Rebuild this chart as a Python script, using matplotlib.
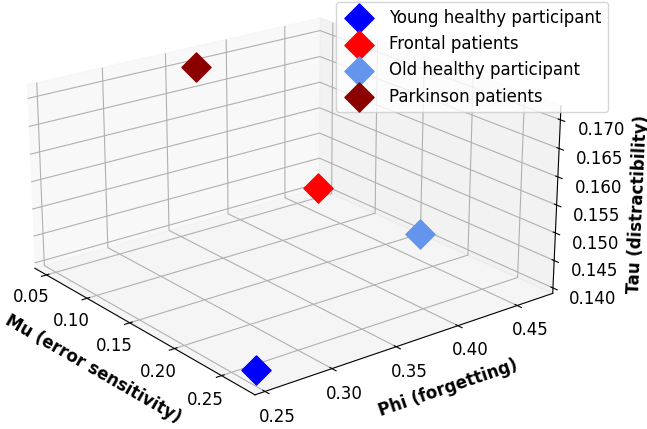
import matplotlib
matplotlib.use("Agg")
from matplotlib import pyplot as plt

plt.rcParams["font.size"] = 12

# groups and fitted parameters
groups = ["Young healthy participant", "Frontal patients",
          "Old healthy participant", "Parkinson patients"]
colors = ["blue", "red", "cornflowerblue", "darkred"]
mu = [0.279, 0.040, 0.155, 0.066]
phi = [0.2475, 0.476, 0.476, 0.354]
tau = [0.1424, 0.1397, 0.1397, 0.1717]

fig = plt.figure(figsize=(6.47, 4.29), dpi=100)
ax = fig.add_subplot(111, projection="3d")
ax.set_position([-0.06, 0.045, 1.0, 1.0])
ax.view_init(elev=21, azim=-38)
ax.set_box_aspect((1, 1, 0.53), zoom=1.28)

for i in range(len(groups)):
    ax.scatter(mu[i], phi[i], tau[i], c=colors[i], marker="D", s=220,
               label=groups[i], depthshade=False)

ax.set_xlim(0.0353, 0.284)
ax.set_ylim(0.2427, 0.481)
ax.set_zlim(0.139, 0.1724)
ax.set_xticks([0.05, 0.10, 0.15, 0.20, 0.25])
ax.set_yticks([0.25, 0.30, 0.35, 0.40, 0.45])
ax.set_zticks([0.140, 0.145, 0.150, 0.155, 0.160, 0.165, 0.170])
ax.tick_params(axis="both", pad=0)
ax.tick_params(axis="z", pad=4)

ax.set_xlabel("Mu (error sensitivity)", fontweight="bold", labelpad=2)
ax.set_ylabel("Phi (forgetting)", fontweight="bold", labelpad=2)
ax.set_zlabel("Tau (distractibility)", fontweight="bold", labelpad=3)
ax.legend(loc="upper right", bbox_to_anchor=(0.94, 0.995),
          bbox_transform=fig.transFigure, borderaxespad=0)

plt.savefig("out.png")
